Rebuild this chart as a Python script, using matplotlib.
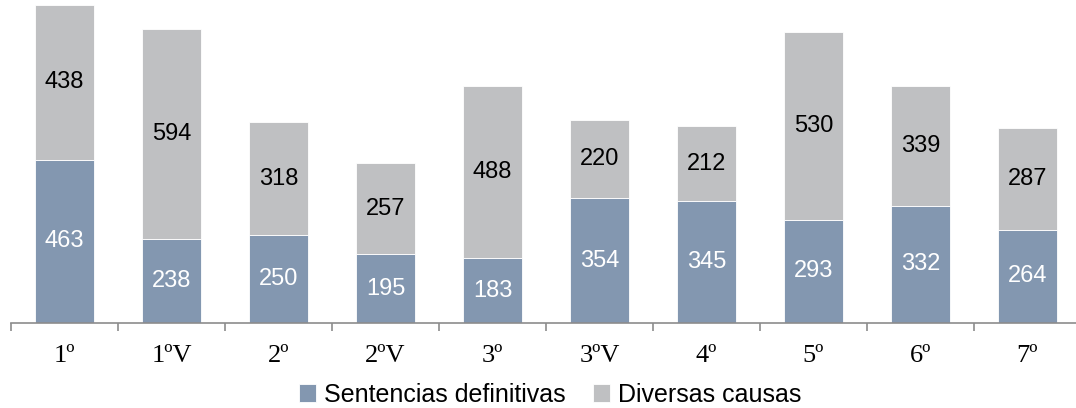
import numpy as np
import matplotlib
matplotlib.use("Agg")
import matplotlib.pyplot as plt

# data
cursos = ["1º", "1ºV", "2º", "2ºV", "3º", "3ºV", "4º", "5º", "6º", "7º"]
sentencias = [463, 238, 250, 195, 183, 354, 345, 293, 332, 264]
diversas = [438, 594, 318, 257, 488, 220, 212, 530, 339, 287]

col_sent = "#8397B0"
col_div = "#BFC0C2"

fig = plt.figure(figsize=(10.76, 4.08), dpi=100)
ax = fig.add_axes([11 / 1076, 85 / 408, 1070 / 1076, 323 / 408])

x = np.arange(len(cursos))
b1 = ax.bar(x, sentencias, width=0.55, color=col_sent, edgecolor="white",
            linewidth=0.6, label="Sentencias definitivas")
b2 = ax.bar(x, diversas, width=0.55, bottom=sentencias, color=col_div,
            edgecolor="white", linewidth=0.6, label="Diversas causas")

for i in range(len(cursos)):
    ax.text(x[i], sentencias[i] / 2, str(sentencias[i]), ha="center", va="center",
            color="white", fontsize=17, family="Liberation Sans")
    ax.text(x[i], sentencias[i] + diversas[i] / 2, str(diversas[i]), ha="center",
            va="center", color="black", fontsize=17, family="Liberation Sans")

ax.set_xlim(-0.5, len(cursos) - 0.5)
ax.set_ylim(0, 915)

for s in ["top", "right", "left"]:
    ax.spines[s].set_visible(False)
ax.spines["bottom"].set_color("#8C8C8C")
ax.spines["bottom"].set_linewidth(1.2)
ax.set_yticks([])

# ticks at category borders, labels at centres
ax.set_xticks(np.arange(len(cursos) + 1) - 0.5)
ax.set_xticklabels([])
ax.tick_params(axis="x", which="major", length=6, width=1.2, color="#8C8C8C")
ax.set_xticks(x, minor=True)
ax.set_xticklabels(cursos, minor=True, family="Liberation Serif", fontsize=19)
ax.tick_params(axis="x", which="minor", length=0, pad=16)

fig.legend(handles=[b1, b2], loc="center", bbox_to_anchor=(0.511, 0.032),
           ncol=2, frameon=False, prop={"family": "Liberation Sans", "size": 18},
           handlelength=0.7, handleheight=0.7, handletextpad=0.3, columnspacing=1.1,
           borderpad=0)

fig.savefig("out.png", dpi=100)
